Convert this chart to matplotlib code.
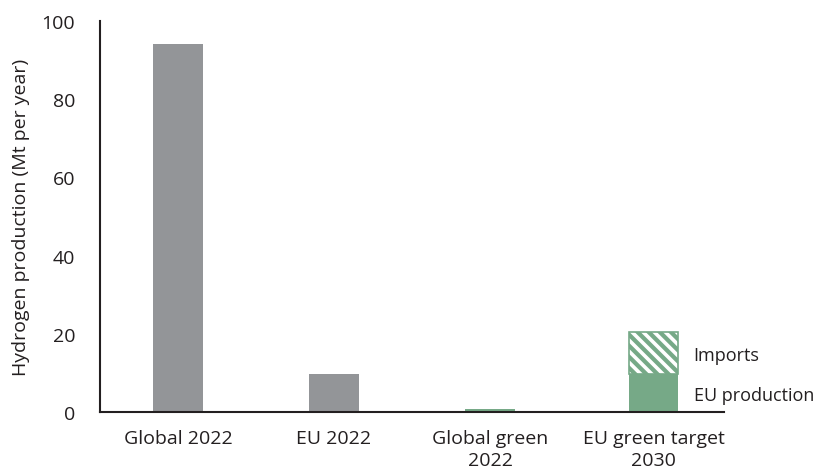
import matplotlib
matplotlib.use('Agg')
import matplotlib.pyplot as plt

categories = ['Global 2022', 'EU 2022', 'Global green\n2022', 'EU green target\n2030']
base_values = [94.1, 9.8, 0.8, 9.8]
imports_values = [0, 0, 0, 10.7]
bar_colors = ['#939598', '#939598', '#76a987', '#76a987']

plt.rcParams['font.family'] = ['Open Sans', 'DejaVu Sans']
plt.rcParams['hatch.linewidth'] = 2.6

fig = plt.figure(figsize=(8.21, 4.77), dpi=100)
ax = fig.add_axes([100 / 821, 1 - 413 / 477, 624 / 821, 391 / 477])

# last category sits a little further right in the original
x = [0, 1, 2, 3.05]
ax.bar(x, base_values, width=0.315, color=bar_colors, zorder=2)
ax.bar(x[3], imports_values[3], bottom=base_values[3], width=0.315,
       facecolor='#76a987', edgecolor='white', linewidth=0, hatch='\\\\\\', zorder=2)
# outline of hatched segment
ax.bar(x[3], imports_values[3], bottom=base_values[3], width=0.315,
       facecolor='none', edgecolor='#76a987', linewidth=1.2, zorder=3)

ax.text(x[3] + 0.255, base_values[3] + imports_values[3] / 2 - 0.5, 'Imports',
        fontsize=13, va='center', ha='left', color='#231f20')
ax.text(x[3] + 0.255, base_values[3] / 2 - 0.5, 'EU production',
        fontsize=13, va='center', ha='left', color='#231f20')

ax.set_xlim(-0.5, 3.5)
ax.set_ylim(0, 100)
ax.set_yticks([0, 20, 40, 60, 80, 100])
ax.set_xticks(x)
ax.set_xticklabels(categories, fontsize=14, color='#231f20', linespacing=1.3)
ax.tick_params(axis='y', length=0, pad=18, labelsize=14, labelcolor='#231f20')
ax.tick_params(axis='x', length=0, pad=12)
ax.set_ylabel('Hydrogen production (Mt per year)', fontsize=14, color='#231f20', labelpad=8)

for side in ['top', 'right']:
    ax.spines[side].set_visible(False)
for side in ['left', 'bottom']:
    ax.spines[side].set_color('#231f20')
    ax.spines[side].set_linewidth(1.5)

fig.savefig('out.png', dpi=100)
